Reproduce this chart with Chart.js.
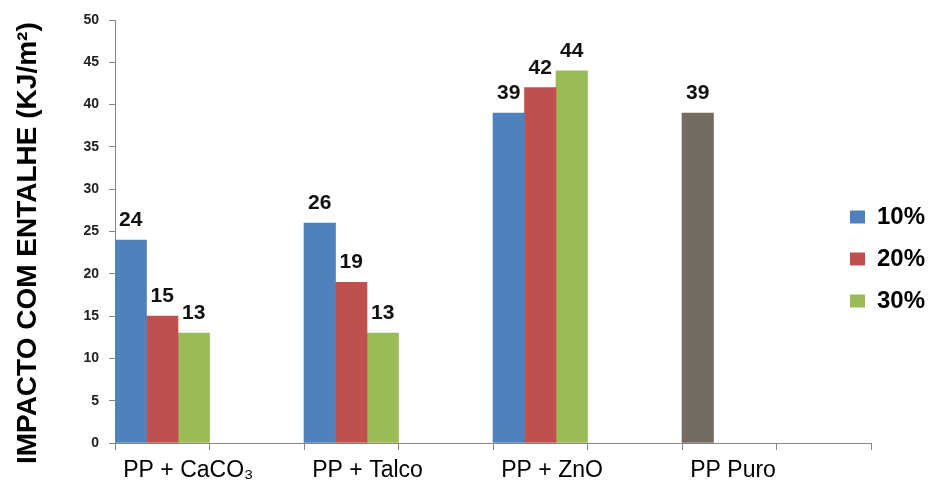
<!DOCTYPE html>
<html>
<head>
<meta charset="utf-8">
<script src="https://cdn.jsdelivr.net/npm/chart.js@4.4.0/dist/chart.umd.min.js"></script>
<style>
  html, body { margin: 0; padding: 0; background: #fff; }
  #wrap { width: 937px; height: 487px; position: relative; }
</style>
</head>
<body>
<div id="wrap"><canvas id="c"></canvas></div>
<script>
// Categories (alternate empty slots, as in the original)
const categories = ['PP + CaCO\u2083', '', 'PP + Talco', '', 'PP + ZnO', '', 'PP Puro', ''];
const seriesNames = ['10%', '20%', '30%'];
const values10 = [24, null, 26, null, 39, null, 39, null];
const values20 = [15, null, 19, null, 42, null, null, null];
const values30 = [13, null, 13, null, 44, null, null, null];
const yTicks = [0, 5, 10, 15, 20, 25, 30, 35, 40, 45, 50];
const yTitle = 'IMPACTO COM ENTALHE (KJ/m\u00b2)   ';
const pureIndex = 6;

const BLUE = '#4F81BD', RED = '#C0504D', GREEN = '#9BBB59', GRAY = '#746C62';
const AXIS = '#868686';
const FONT = '"Liberation Sans", Arial, sans-serif';

const valueLabels = {
  id: 'valueLabels',
  afterDatasetsDraw(chart) {
    const ctx = chart.ctx;
    ctx.save();
    ctx.font = 'bold 21px ' + FONT;
    ctx.fillStyle = '#111';
    ctx.textAlign = 'center';
    ctx.textBaseline = 'alphabetic';
    chart.data.datasets.forEach((ds, di) => {
      const meta = chart.getDatasetMeta(di);
      meta.data.forEach((bar, i) => {
        const v = ds.data[i];
        if (v === null || v === undefined) return;
        ctx.fillText(String(v), bar.x, bar.y - 14);
      });
    });
    ctx.restore();
  }
};

const legendPlacer = {
  id: 'legendPlacer',
  afterLayout(chart) {
    const lg = chart.legend;
    if (!lg) return;
    const w = lg.width;
    lg.left = 832; lg.top = 187;
    lg.right = lg.left + w; lg.bottom = 460;
  }
};

new Chart(document.getElementById('c'), {
  type: 'bar',
  data: {
    labels: categories,
    datasets: [
      { label: seriesNames[0], data: values10,
        backgroundColor: (c) => (c.dataIndex === pureIndex ? GRAY : BLUE), borderWidth: 0 },
      { label: seriesNames[1], data: values20, backgroundColor: RED, borderWidth: 0 },
      { label: seriesNames[2], data: values30, backgroundColor: GREEN, borderWidth: 0 }
    ]
  },
  options: {
    responsive: true,
    maintainAspectRatio: false,
    animation: false,
    layout: { padding: { top: 20, left: 0, right: 66, bottom: 0 } },
    datasets: { bar: { categoryPercentage: 1.0, barPercentage: 1.0 } },
    plugins: {
      legend: {
        position: 'chartArea',
        align: 'start',
        labels: {
          boxWidth: 15, boxHeight: 13, padding: 18,
          color: '#000',
          font: { family: FONT, size: 24, weight: 'bold' }
        }
      },
      tooltip: { enabled: false }
    },
    scales: {
      x: {
        offset: true,
        border: { display: true, color: AXIS, width: 1 },
        grid: { display: true, offset: true, drawOnChartArea: false, drawTicks: true, tickLength: 7, color: AXIS },
        ticks: {
          autoSkip: false, maxRotation: 0, minRotation: 0,
          align: 'start', labelOffset: -39, padding: 7,
          color: '#000',
          font: { family: FONT, size: 23 }
        },
        afterFit: (s) => { s.height = 44; }
      },
      y: {
        min: 0, max: 50,
        afterBuildTicks: (s) => { s.ticks = yTicks.map(v => ({ value: v })); },
        border: { display: true, color: AXIS, width: 1 },
        grid: { display: true, drawOnChartArea: false, drawTicks: true, tickLength: 6, color: AXIS },
        ticks: {
          padding: 10, color: '#222',
          font: { family: FONT, size: 14, weight: 'bold' }
        },
        title: {
          display: true, text: yTitle, color: '#000',
          padding: { top: 11, bottom: 0 },
          font: { family: FONT, size: 28, weight: 'bold' }
        },
        afterFit: (s) => { s.width = 115; }
      }
    }
  },
  plugins: [valueLabels, legendPlacer]
});
</script>
</body>
</html>
